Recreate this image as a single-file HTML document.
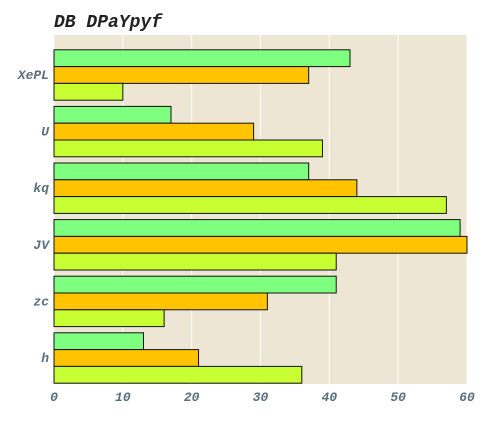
<!DOCTYPE html>
<html><head><meta charset="utf-8"><style>
body{margin:0;background:#fff;}
svg text{font-family:"Liberation Mono",monospace;font-style:italic;font-weight:bold;}
</style></head><body>
<svg id="c" width="490" height="420" xmlns="http://www.w3.org/2000/svg">
<text x="54" y="27" font-size="18" fill="#222">DB DPaYpyf</text>
<rect x="54" y="35" width="413" height="349" fill="#ede6d5"/>
<g id="grid"></g><g id="bars"></g><g id="axes"></g>
</svg>
<script>
const categories=["XePL","U","kq","JV","zc","h"];
const seriesA=[43,17,37,59,41,13];
const seriesB=[37,29,44,60,31,21];
const seriesC=[10,39,57,41,16,36];
const xTicks=[0,10,20,30,40,50,60];
const colors=["#7fff7f","#ffc300","#c8ff33"];
const L=54,R=467;
const x=v=>L+(v-0)/(60-0)*(R-L);
const firstCenter=75, band=56.6;
const ns="http://www.w3.org/2000/svg";
const grid=document.getElementById('grid'),bars=document.getElementById('bars'),axes=document.getElementById('axes');
function mk(tag,attrs,parent){const e=document.createElementNS(ns,tag);for(const k in attrs)e.setAttribute(k,attrs[k]);parent.appendChild(e);return e;}
xTicks.forEach(t=>{
  const g=mk('line',{x1:x(t),x2:x(t),y1:35,y2:384,stroke:'#fff','stroke-width':1},grid);
  
  
  const tx=mk('text',{x:x(t),y:401,'text-anchor':'middle','font-size':13,fill:'#5a6e7e'},axes);
  tx.textContent=t;
  
  
});
const series=[seriesA,seriesB,seriesC];
const bh=16.8;
categories.forEach((c,i)=>{
  const yc=firstCenter+i*band;
  series.forEach((s,j)=>{
    const r=mk('rect',{x:L,y:yc-1.5*bh+j*bh,width:x(s[i])-L,height:bh,fill:colors[j],stroke:'#111','stroke-width':1},bars);
    
    
  });
  const tx=mk('text',{x:49,y:yc+4,'text-anchor':'end','font-size':13,fill:'#5a6e7e'},axes);
  tx.textContent=c;
  
  
});
</script>
</body></html>
